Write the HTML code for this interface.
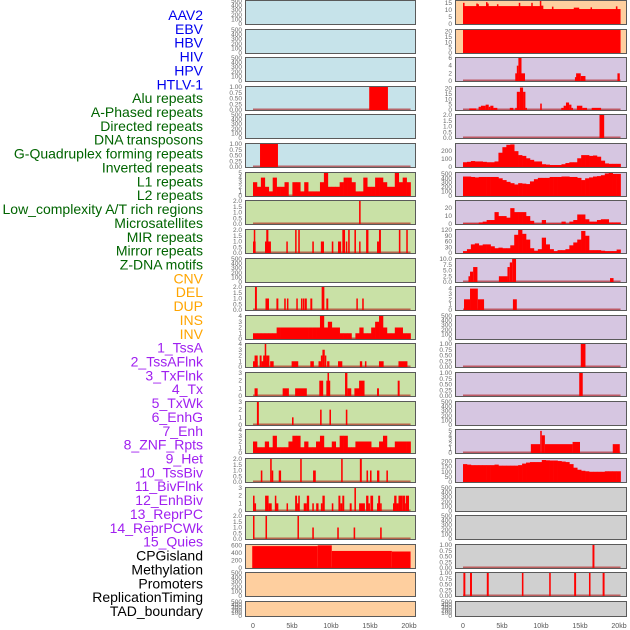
<!DOCTYPE html>
<html><head><meta charset="utf-8"><style>
html,body{margin:0;padding:0;background:#fff;}
svg{display:block;font-family:"Liberation Sans",sans-serif;}
</style></head><body>
<svg id="chart" width="630" height="630" viewBox="0 0 630 630"></svg>
<script>
// ---------- data ----------
const trackLabels = ["AAV2","EBV","HBV","HIV","HPV","HTLV-1","Alu repeats","A-Phased repeats","Directed repeats","DNA transposons","G-Quadruplex forming repeats","Inverted repeats","L1 repeats","L2 repeats","Low_complexity A/T rich regions","Microsatellites","MIR repeats","Mirror repeats","Z-DNA motifs","CNV","DEL","DUP","INS","INV","1_TssA","2_TssAFlnk","3_TxFlnk","4_Tx","5_TxWk","6_EnhG","7_Enh","8_ZNF_Rpts","9_Het","10_TssBiv","11_BivFlnk","12_EnhBiv","13_ReprPC","14_ReprPCWk","15_Quies","CPGisland","Methylation","Promoters","ReplicationTiming","TAD_boundary"];
const labelGroups = [0,0,0,0,0,0,1,1,1,1,1,1,1,1,1,1,1,1,1,2,2,2,2,2,3,3,3,3,3,3,3,3,3,3,3,3,3,3,3,4,4,4,4,4];
const xTickValues = [0,5,10,15,20];
const xTickLabels = ["0","5kb","10kb","15kb","20kb"];

// left column
const L3_segs = [[14.9,17.3,1]];
const L5_segs = [[0.9,3.2,1]];
const L6_bins = [3,2,4,2,1,4,2,2,3,0,3,3,1,3,1,1,1,3,5,2,2,2,3,4,4,3,1,1,4,2,2,4,4,3,2,2,5,3,4,3];
const L7_segs = [[13.6,13.8,2]];
const L8_segs = [[0,0.34,1],[0.1,0.26,2],[1.54,2.3,1],[1.7,1.97,2],[4.27,4.44,1],[5.4,5.55,2],[5.8,6.0,2],[7.6,7.8,1],[8.7,9.1,1],[10.1,10.3,1],[10.9,11.3,1],[11.45,11.8,2],[11.9,12.05,1],[12.2,12.4,2],[13.0,13.2,2],[13.6,13.75,1],[14.5,14.8,2],[15.9,16.15,1],[16.15,16.4,2],[18.7,18.9,2],[19.65,19.8,2]];
const L10_segs = [[0.25,0.5,2],[1.6,2.05,1],[3.0,3.25,1],[4.0,4.2,1],[4.35,4.5,1],[5.55,5.7,1],[6.15,6.3,1],[6.4,6.6,1],[6.65,6.9,1],[7.35,7.6,1],[8.8,9.15,2],[9.4,9.65,1],[13.25,13.4,1],[14.0,14.2,1]];
const L11_bins = [1,1,1,1,1,1,2,2,2,2,2,2,2,2,2,2,2,4,2,3,2,2,1,1,1,0,1,2,1,1,2,3,4,2,1,1,2,2,1,1];
const L12_segs = [[0,0.6,1],[0.2,0.6,2],[0.85,1.1,2],[1.1,2.05,1],[1.3,1.7,2],[1.5,1.7,4],[1.7,2.1,2],[2.2,2.65,1],[4.95,5.8,1],[7.35,7.8,1],[8.4,8.8,1],[8.7,8.9,2],[8.9,9.2,3],[9.2,9.4,2],[9.5,9.8,1],[10.9,11.45,1],[13.7,14.0,1],[14.35,14.5,1],[16.15,16.75,1],[18.65,19.8,1]];
const L13_segs = [[0.2,0.6,1],[3.8,4.6,1],[5.4,6.9,1],[8.5,9.0,2],[9.4,9.9,2],[9.55,9.75,3],[11.8,12.1,3],[12.1,12.6,1],[13.0,13.8,1],[13.6,14.3,2],[15.9,16.15,1],[18.55,18.8,2]];
const L14_segs = [[0.5,0.75,3],[5.0,5.2,1],[8.6,8.8,2],[9.8,10.0,2],[11.9,12.1,2]];
const L15_bins = [2,1,1,2,1,3,1,1,1,2,3,3,1,2,1,1,2,3,1,1,2,1,3,3,1,1,2,2,2,2,1,1,2,3,1,1,2,2,2,2];
const L16_segs = [[1.0,1.2,1],[2.2,2.4,2],[2.4,2.6,1],[3.3,3.6,1],[6.05,6.25,2],[7.7,8.05,1],[11.3,11.5,2],[13.7,13.95,2],[14.55,14.75,1],[15.0,15.2,1],[15.9,16.2,1],[17.1,17.3,1]];
const L17_segs = [[0,0.2,2],[0.2,0.35,1],[1.55,2.0,2],[2.0,2.4,1],[2.8,2.95,2],[2.95,3.25,1],[4.3,4.45,1],[5.4,5.65,2],[5.65,5.8,1],[5.8,6.0,2],[6.5,6.9,1],[6.9,7.2,2],[7.6,7.8,1],[8.1,8.4,1],[8.7,8.9,1],[8.9,9.2,2],[10.1,10.3,1],[10.95,11.2,2],[11.2,11.45,1],[11.45,11.7,2],[12.4,12.65,1],[13.0,13.2,3],[13.6,14.35,1],[14.5,14.8,2],[14.8,14.95,1],[15.05,15.4,2],[15.9,16.05,1],[16.05,16.3,2],[16.3,16.5,1],[17.95,18.1,1],[18.1,18.4,2],[18.4,18.65,1],[18.65,19.2,2],[19.2,19.5,2],[19.5,19.7,1],[19.6,20.0,2]];
const L18_segs = [[0,0.15,2],[1.6,1.8,2],[5.7,5.85,2],[7.6,7.8,1],[10.8,11.0,1],[12.9,13.1,1],[16.3,16.5,1]];
const L19_segs = [[-0.1,8.3,590],[8.3,10.1,610],[10.1,17.8,460],[17.8,20.2,445]];

// right column
const R0_segs = [[0,10.2,12.7],[10.2,20.2,10.6],[0,0.2,15],[1.7,1.85,14.5],[1.85,2.0,14],[2.95,3.1,15.5],[3.1,3.25,14.5],[4.35,4.5,14],[7.15,7.3,15],[8.75,8.9,15],[9.85,10.0,16.3],[10.0,10.3,13],[11.4,11.6,12.3],[14.2,14.9,11.6],[16.35,16.5,11.8],[19.6,19.8,12.5]];
const R1_segs = [[0,20.2,21.5]];
const R2_segs = [[6.7,7.1,2],[6.9,7.1,4],[7.1,7.5,6],[7.5,7.95,2],[14.35,14.5,1],[14.5,15.1,2],[15.1,15.7,1.3],[19.8,20.1,2]];
const R3_segs = [[0.8,1.7,1.5],[2.0,2.3,3],[2.3,2.9,4],[2.9,3.3,5],[3.3,3.5,3],[3.5,3.9,4],[3.9,4.4,2],[6.0,6.45,2],[6.7,6.9,2],[6.9,7.3,17],[7.3,7.7,21],[7.7,8.0,17],[8.0,8.2,2],[9.9,10.1,6],[12.6,12.9,2],[12.9,13.2,4],[13.2,13.6,7],[13.6,13.9,5],[13.9,14.1,2],[14.6,15.3,4],[15.3,15.9,2],[16.5,17.7,2]];
const R4_segs = [[17.5,18.1,2]];
const R5_bins = [60,65,75,70,70,65,60,60,70,180,250,280,285,200,150,140,110,90,70,70,35,30,25,25,25,35,50,60,60,110,150,150,140,145,130,80,45,40,40,40];
const R6_bins = [440,440,430,420,430,430,430,430,430,400,360,320,290,260,290,280,270,330,380,410,410,410,430,430,430,440,440,430,430,410,360,400,420,440,450,470,510,520,500,500];
const R7_bins = [0.5,0.5,0.5,0.5,2,3,5,5,15,10,10,8,20,15,15,15,10,4,0.5,0.5,5,0.5,0.5,0.5,0.5,3,0.5,3,5,12,12,6,3,3,5,6,6,2,2,2];
const R8_bins = [10,20,45,50,40,45,45,35,25,28,25,25,40,95,120,100,70,25,12,20,80,45,20,10,15,15,20,40,55,70,115,90,15,15,15,12,10,10,10,18];
const R9_segs = [[0.7,0.9,2.5],[0.9,1.3,4.5],[1.3,1.85,6.5],[4.6,5.7,2.5],[5.7,6.0,6.5],[6.0,6.3,8.5],[6.3,6.8,10],[18.85,19.3,1.7]];
const R10_segs = [[0.13,0.9,2],[0.9,1.9,4],[1.9,2.7,2],[6.4,6.9,2]];
const R12_segs = [[15.1,15.7,1]];
const R13_segs = [[14.9,15.35,1]];
const R15_segs = [[8.7,9.9,2],[9.9,10.1,5],[10.1,10.5,4],[10.5,14.05,2],[14.05,15.0,2.5],[19.2,20.1,2]];
const R16_bins = [175,170,165,165,165,165,165,165,170,160,160,160,160,160,165,180,190,195,195,195,215,212,210,210,205,200,195,175,140,120,110,105,100,100,100,100,105,105,105,105];
const R19_segs = [[16.6,16.85,1]];
const R20_segs = [[0.05,0.3,1],[0.9,1.15,1],[3.05,3.3,1],[7.55,7.75,1],[11.05,11.25,1],[14.25,14.5,1],[16.15,16.35,1],[17.9,18.15,1]];

const T500 = [0,100,200,300,400,500];
const T1 = [0,0.25,0.5,0.75,1];
const T1L = ["0.00","0.25","0.50","0.75","1.00"];
const T2 = [0,0.5,1,1.5,2];
const T2L = ["0.0","0.5","1.0","1.5","2.0"];

// col, row, bg, ymax, ticks, tickLabels, bins, segs
const tracks = [
 [0,0,"b",500,T500,null,null,null],[0,1,"b",500,T500,null,null,null],[0,2,"b",500,T500,null,null,null],
 [0,3,"b",1,T1,T1L,null,L3_segs],[0,4,"b",500,T500,null,null,null],[0,5,"b",1,T1,T1L,null,L5_segs],
 [0,6,"g",5,[0,1,2,3,4,5],null,L6_bins,null],[0,7,"g",2,T2,T2L,null,L7_segs],[0,8,"g",2,T2,T2L,null,L8_segs],
 [0,9,"g",500,T500,null,null,null],[0,10,"g",2,T2,T2L,null,L10_segs],[0,11,"g",4,[0,1,2,3,4],null,L11_bins,null],
 [0,12,"g",4,[0,1,2,3,4],null,null,L12_segs],[0,13,"g",3,[0,1,2,3],null,null,L13_segs],[0,14,"g",3,[0,1,2,3],null,null,L14_segs],
 [0,15,"g",4,[0,1,2,3,4],null,L15_bins,null],[0,16,"g",2,T2,T2L,null,L16_segs],[0,17,"g",3,[0,1,2,3],null,null,L17_segs],
 [0,18,"g",2,T2,T2L,null,L18_segs],[0,19,"o",620,[0,200,400,600],null,null,L19_segs],[0,20,"o",500,T500,null,null,null],[0,21,"o",500,T500,null,null,null],
 [1,0,"o",16.3,[0,5,10,15],null,null,R0_segs],[1,1,"o",21.5,[0,5,10,15,20],null,null,R1_segs],[1,2,"p",6,[0,2,4,6],null,null,R2_segs],
 [1,3,"p",21.5,[0,5,10,15,20],null,null,R3_segs],[1,4,"p",2,T2,T2L,null,R4_segs],[1,5,"p",290,[0,100,200],null,R5_bins,null],
 [1,6,"p",520,T500,null,R6_bins,null],[1,7,"p",29,[0,10,20],null,R7_bins,null],[1,8,"p",120,[0,30,60,90,120],null,R8_bins,null],
 [1,9,"p",10,[0,2.5,5,7.5,10],["0.0","2.5","5.0","7.5","10.0"],null,R9_segs],[1,10,"p",4.3,[0,1,2,3,4],null,null,R10_segs],
 [1,11,"p",500,T500,null,null,null],[1,12,"p",1,T1,T1L,null,R12_segs],[1,13,"p",1,T1,T1L,null,R13_segs],[1,14,"p",500,T500,null,null,null],
 [1,15,"p",5.2,[0,1,2,3,4,5],null,null,R15_segs],[1,16,"p",225,[0,50,100,150,200],null,R16_bins,null],
 [1,17,"x",500,T500,null,null,null],[1,18,"x",500,T500,null,null,null],[1,19,"x",1,T1,T1L,null,R19_segs],
 [1,20,"x",1,T1,T1L,null,R20_segs],[1,21,"x",500,T500,null,null,null]
];
const binWidthKb = 0.505;

// ---------- drawing ----------
const NS = "http://www.w3.org/2000/svg";
const svg = document.getElementById("chart");
const BG = {b:"#c6e3ea",g:"#c9e1a6",o:"#fecf9f",p:"#d6c6e1",x:"#d0d0d0"};
const GROUPCOL = ["#0000ee","#006400","#ffa500","#a020f0","#000000"];
const COLX = [[245,416,253],[455,627,463]];
const PXKB = 7.8;
function mk(tag, attrs, parent){const e=document.createElementNS(NS,tag);for(const k in attrs)e.setAttribute(k,attrs[k]);(parent||svg).appendChild(e);return e;}
function rowTop(r){return Math.round(r*28.62);}
function rowH(r){return r===21?16:25;}
function xScale(col,kb){return COLX[col][2]+kb*PXKB;}

trackLabels.forEach((t,i)=>{
  const tx = mk("text",{x:203,y:(15+i*13.86+5).toFixed(1),"text-anchor":"end","font-size":"14",fill:GROUPCOL[labelGroups[i]]});
  tx.textContent=t;
  
  
});

tracks.forEach(tr=>{
  const [col,row,bg,ymax,ticks,tl,bins,segs]=tr;
  const top=rowTop(row), h=rowH(row), x0=COLX[col][0], x1=COLX[col][1];
  const bottom=top+h-1, inner=h-2;
  const yS=v=>bottom - Math.min(v,ymax)/ymax*inner;
  const g=mk("g",{});
  
  
  mk("rect",{x:x0+0.5,y:top+0.5,width:x1-x0-1,height:h-1,fill:BG[bg]},g);
  const clipG=mk("g",{},g);
  if(bins||segs){
    const base=mk("rect",{x:xScale(col,0),y:bottom-1.5,width:20.2*PXKB,height:1.5,fill:"rgba(170,0,0,0.55)"},clipG);
    
    
  }
  if(bins){
    bins.forEach((v,i)=>{
      if(v<=0)return;
      const xa=xScale(col,i*binWidthKb), xb=xScale(col,(i+1)*binWidthKb);
      const r=mk("rect",{x:xa.toFixed(2),y:yS(v).toFixed(2),width:(xb-xa+0.3).toFixed(2),height:(bottom-yS(v)).toFixed(2),fill:"#ff0000"},clipG);
      
      
    });
  }
  if(segs){
    segs.forEach(s=>{
      const xa=Math.max(xScale(col,s[0]),x0+1), xb=xScale(col,s[1]);
      const r=mk("rect",{x:xa.toFixed(2),y:yS(s[2]).toFixed(2),width:Math.max(1.5,xb-xa).toFixed(2),height:(bottom-yS(s[2])).toFixed(2),fill:"#ff0000"},clipG);
      
      
    });
  }
  mk("rect",{x:x0+0.5,y:top+0.5,width:x1-x0-1,height:h-1,fill:"none",stroke:"#5a5a5a","stroke-width":1},g);
  ticks.forEach((v,i)=>{
    const t=mk("text",{x:x0-3,y:(yS(v)+2).toFixed(1),"text-anchor":"end","font-size":"6.5",fill:"#6a6a6a"},g);
    t.textContent = tl ? tl[i] : String(v);
    
    
  });
});

[0,1].forEach(col=>{
  xTickValues.forEach((v,i)=>{
    const t=mk("text",{x:xScale(col,v),y:628,"text-anchor":"middle","font-size":"7",fill:"#555"});
    t.textContent=xTickLabels[i];
    
    
  });
});
</script>
</body></html>
